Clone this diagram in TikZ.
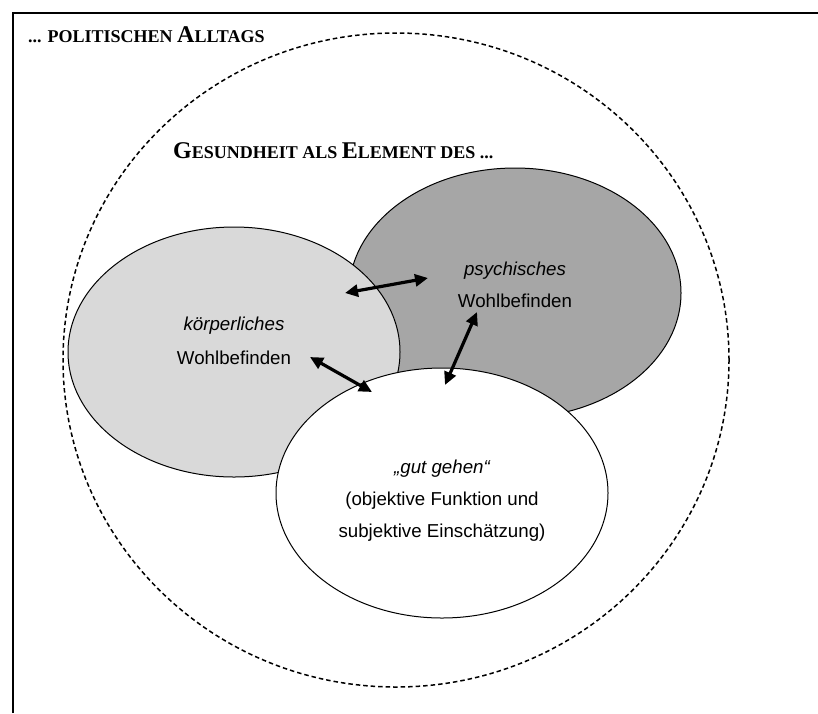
\documentclass[tikz,border=0pt]{standalone}
\usepackage{fontspec}
\setmainfont{Liberation Serif}
\setsansfont{Liberation Sans}
\usetikzlibrary{shapes.geometric,arrows.meta}

\definecolor{lightfill}{RGB}{217,217,217}
\definecolor{darkfill}{RGB}{166,166,166}

% hand-made bold small caps: large initials, smaller capitals
\newcommand{\scbig}[1]{{\fontsize{24}{24}\selectfont #1}}
\newcommand{\scsmall}[1]{{\fontsize{18}{18}\selectfont #1}}

\tikzset{
  blob/.style={ellipse, draw=black, line width=1pt, inner sep=0pt,
               minimum width=332pt, minimum height=250pt},
  outerring/.style={ellipse, draw=black, line width=1.5pt,
               dash pattern=on 4.5pt off 3pt, inner sep=0pt,
               minimum width=666pt, minimum height=654pt},
  label/.style={anchor=base, inner sep=0pt, font=\sffamily\fontsize{18.7}{18.7}\selectfont},
  heading/.style={anchor=base west, inner sep=0pt, font=\bfseries},
  biarrow/.style={line width=3.2pt,
               {Triangle[length=13pt,width=12pt]}-{Triangle[length=13pt,width=12pt]}}
}

\begin{document}
\begin{tikzpicture}[x=1pt,y=-1pt]
\useasboundingbox (0,0) rectangle (818,713);

% frame, open to the right and bottom
\draw[line width=1.6pt] (13,713) -- (13,13) -- (818,13);

\node[heading] (tpol) at (28,42)
  {\scsmall{... POLITISCHEN }\scbig{A}\scsmall{LLTAGS}};

% outer dashed ring
\node[outerring] (ring) at (396,360) {};

\node[heading] (tges) at (173,158)
  {\scbig{G}\scsmall{ESUNDHEIT ALS }\scbig{E}\scsmall{LEMENT DES ...}};

% three overlapping areas
\node[blob, fill=darkfill]  (psy)  at (515,293) {};
\node[blob, fill=lightfill] (koe)  at (234,352) {};
\node[blob, fill=white]     (gut)  at (442,493) {};

% texts
\node[label] (koe1) at (234,330) {\itshape körperliches};
\node[label] (koe2) at (234,364) {Wohlbefinden};
\node[label] (psy1) at (515,275) {\itshape psychisches};
\node[label] (psy2) at (515,307) {Wohlbefinden};
\node[label] (gut1) at (442,473) {\itshape „gut gehen“};
\node[label] (gut2) at (442,505) {(objektive Funktion und};
\node[label] (gut3) at (442,537) {subjektive Einschätzung)};

% arrow ends
\coordinate (akp) at (345,293);
\coordinate (apk) at (428,278);
\coordinate (akg) at (310,357);
\coordinate (agk) at (372,392);
\coordinate (apg) at (477,312);
\coordinate (agp) at (445,385);

\draw[biarrow] (akp) -- (apk);
\draw[biarrow] (akg) -- (agk);
\draw[biarrow] (apg) -- (agp);
\end{tikzpicture}
\end{document}
